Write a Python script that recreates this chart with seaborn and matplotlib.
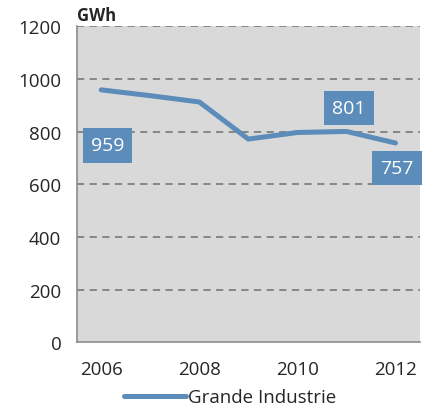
import numpy as np
import pandas as pd
import matplotlib
matplotlib.use("Agg")
import matplotlib.pyplot as plt
import seaborn as sns

years = [2006, 2007, 2008, 2009, 2010, 2011, 2012]
gwh = [959, 937, 913, 772, 797, 801, 757]
series = "Grande Industrie"
# which points get a value box, and where the box sits (year offset, value)
labels = {2006: (0.13, 748), 2011: (0.05, 889), 2012: (0.03, 663)}

df = pd.DataFrame({"year": years, "gwh": gwh})

sns.set_style("white")
plt.rcParams["font.family"] = ["Open Sans", "DejaVu Sans"]
col = "#5B8CBA"
grey = "#8c8c8c"

fig = plt.figure(figsize=(4.38, 4.10), dpi=100)
ax = fig.add_axes([0.175, 0.163, 0.784, 0.770])
ax.set_facecolor("#d9d9d9")

sns.lineplot(data=df, x="year", y="gwh", color=col, lw=3.6, ax=ax,
             label=series, solid_capstyle="round", legend=False)

for yr, (dx, yv) in labels.items():
    v = gwh[years.index(yr)]
    ax.text(yr + dx, yv, str(v), ha="center", va="center", color="white",
            fontsize=14, bbox=dict(boxstyle="square,pad=0.42", fc=col, ec="none"))

ax.set_xlim(2005.5, 2012.5)
ax.set_ylim(0, 1200)
ax.set_yticks(range(0, 1201, 200))
ax.set_xticks(np.arange(2005.5, 2013, 1))
ax.set_xticklabels([])
ax.set_xticks([2006, 2008, 2010, 2012], minor=True)
ax.set_xticklabels(["2006", "2008", "2010", "2012"], minor=True)
ax.tick_params(axis="x", which="minor", length=0, labelsize=13.5, pad=13)
ax.tick_params(axis="x", which="major", length=5, color=grey, width=1)
ax.tick_params(axis="y", length=5, color=grey, width=1, labelsize=13.5, pad=6)
for y in range(200, 1201, 200):
    ax.axhline(y, color="#808080", lw=1.3, ls=(0, (4, 3)), zorder=0.5)
for s in ["top", "right"]:
    ax.spines[s].set_visible(False)
for s in ["left", "bottom"]:
    ax.spines[s].set_color(grey)
    ax.spines[s].set_linewidth(1.2)
ax.set_xlabel("")
ax.set_ylabel("")

fig.text(0.176, 0.948, "GWh", fontsize=12, fontweight="bold")
h, l = ax.get_legend_handles_labels()
fig.legend(h, l, loc="lower center", bbox_to_anchor=(0.525, -0.035), frameon=False,
           fontsize=13.5, handlelength=3.3, handletextpad=0.1)

fig.savefig("out.png", dpi=100)
